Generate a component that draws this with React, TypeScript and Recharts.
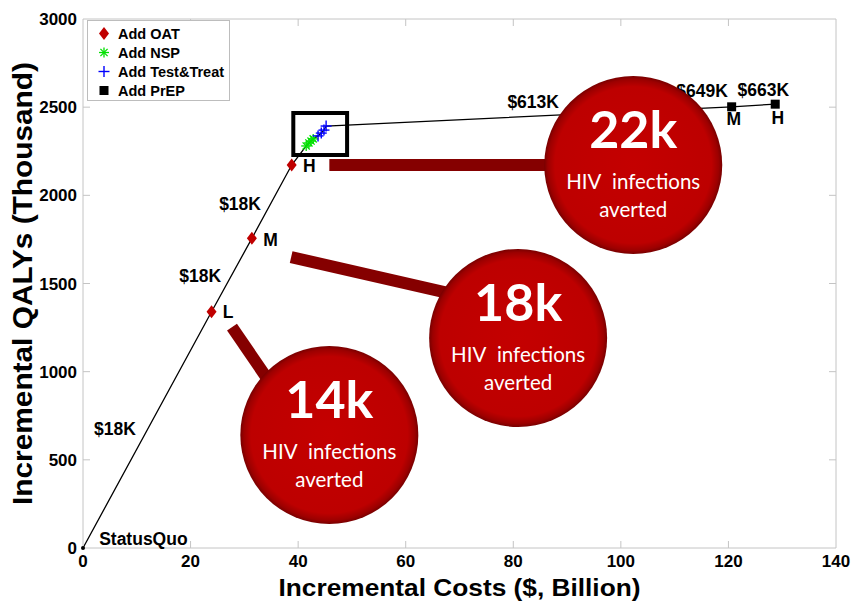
import { ComposedChart, XAxis, YAxis, Line, Scatter, ReferenceArea, ReferenceLine, Legend, Label } from 'recharts';

const X_TICKS = [0, 20, 40, 60, 80, 100, 120, 140];
const Y_TICKS = [0, 500, 1000, 1500, 2000, 2500, 3000];

// incremental costs ($ billion) vs incremental QALYs (thousand)
const statusQuo = [{ x: 0, y: 0 }];
const oat = [
  { x: 23.9, y: 1340 },
  { x: 31.4, y: 1756 },
  { x: 38.8, y: 2172 },
];
const nsp = [
  { x: 41.5, y: 2280 },
  { x: 42.0, y: 2297 },
  { x: 42.4, y: 2308 },
  { x: 42.8, y: 2320 },
];
const testTreat = [
  { x: 43.7, y: 2337 },
  { x: 44.3, y: 2353 },
  { x: 44.8, y: 2370 },
  { x: 45.2, y: 2393 },
];
const prep = [
  { x: 120.6, y: 2502 },
  { x: 128.7, y: 2517 },
];
const frontier = [...statusQuo, ...oat, ...nsp, ...testTreat, ...prep];

const labels = [
  { x: 29.2, y: 1917, text: '$18K', anchor: 'middle' },
  { x: 21.8, y: 1509, text: '$18K', anchor: 'middle' },
  { x: 5.95, y: 641, text: '$18K', anchor: 'middle' },
  { x: 3.0, y: 17, text: 'StatusQuo', anchor: 'start' },
  { x: 26.0, y: 1304, text: 'L', anchor: 'start' },
  { x: 33.5, y: 1713, text: 'M', anchor: 'start' },
  { x: 40.9, y: 2132, text: 'H', anchor: 'start' },
  { x: 83.7, y: 2495, text: '$613K', anchor: 'middle' },
  { x: 115.1, y: 2558, text: '$649K', anchor: 'middle' },
  { x: 126.5, y: 2563, text: '$663K', anchor: 'middle' },
  { x: 121.0, y: 2399, text: 'M', anchor: 'middle' },
  { x: 129.2, y: 2405, text: 'H', anchor: 'middle' },
];

const bubbles = [
  { x: 102.3, y: 2172, value: '22k' },
  { x: 80.9, y: 1191, value: '18k' },
  { x: 45.8, y: 641, value: '14k' },
];

const connectors = [
  [{ x: 45.8, y: 2172 }, { x: 90, y: 2172 }],
  [{ x: 38.7, y: 1650 }, { x: 68, y: 1445 }],
  [{ x: 27.7, y: 1253 }, { x: 34.8, y: 936 }],
];

const LEGEND_ITEMS = ['Add OAT', 'Add NSP', 'Add Test&Treat', 'Add PrEP'];

const FONT = '"Liberation Sans", Arial, Helvetica, sans-serif';
const AXIS_GRAY = '#c4c4c4';
const OAT_RED = '#c00000';
const NSP_GREEN = '#00e000';
const TT_BLUE = '#0000ff';
const TOP = 19;
const RIGHT = 836;

const diamond = (cx: number, cy: number) => (
  <polygon points={`${cx},${cy - 6.5} ${cx + 5},${cy} ${cx},${cy + 6.5} ${cx - 5},${cy}`} fill={OAT_RED} />
);
const asterisk = (cx: number, cy: number) => (
  <g stroke={NSP_GREEN} strokeWidth={1.3}>
    <line x1={cx - 5} x2={cx + 5} y1={cy} y2={cy} />
    <line x1={cx} x2={cx} y1={cy - 5} y2={cy + 5} />
    <line x1={cx - 3.6} x2={cx + 3.6} y1={cy - 3.6} y2={cy + 3.6} />
    <line x1={cx - 3.6} x2={cx + 3.6} y1={cy + 3.6} y2={cy - 3.6} />
  </g>
);
const plus = (cx: number, cy: number) => (
  <g stroke={TT_BLUE} strokeWidth={1.4}>
    <line x1={cx - 5.5} x2={cx + 5.5} y1={cy} y2={cy} />
    <line x1={cx} x2={cx} y1={cy - 5.5} y2={cy + 5.5} />
  </g>
);
const square = (cx: number, cy: number) => <rect x={cx - 4.5} y={cy - 4.5} width={9} height={9} fill="#000" />;

const XTick = (props: any) => {
  const { x, y, payload } = props;
  const base = y - 6;
  const edge = payload.value === 0 || payload.value === 140;
  return (
    <g>
      {!edge && <line x1={x} x2={x} y1={base} y2={base - 7} stroke={AXIS_GRAY} />}
      {!edge && <line x1={x} x2={x} y1={TOP} y2={TOP + 7} stroke={AXIS_GRAY} />}
      <text x={x} y={y} dy={13} textAnchor="middle" fontFamily={FONT} fontWeight={700} fontSize={17} fill="#000">
        {payload.value}
      </text>
    </g>
  );
};

const YTick = (props: any) => {
  const { x, y, payload } = props;
  const left = x + 6;
  const edge = payload.value === 0 || payload.value === 3000;
  return (
    <g>
      {!edge && <line x1={left} x2={left + 7} y1={y} y2={y} stroke={AXIS_GRAY} />}
      {!edge && <line x1={RIGHT} x2={RIGHT - 7} y1={y} y2={y} stroke={AXIS_GRAY} />}
      <text x={x} y={y} dy={6} textAnchor="end" fontFamily={FONT} fontWeight={700} fontSize={17} fill="#000">
        {payload.value}
      </text>
    </g>
  );
};

const Bubble = (props: any) => {
  const { cx, cy, payload } = props;
  const id = `bub-${payload.value}`;
  return (
    <g>
      <defs>
        <radialGradient id={id} cx="50%" cy="50%" r="50%">
          <stop offset="0%" stopColor="#c40000" />
          <stop offset="88%" stopColor="#bd0000" />
          <stop offset="96%" stopColor="#9c0000" />
          <stop offset="100%" stopColor="#780000" />
        </radialGradient>
      </defs>
      <circle cx={cx} cy={cy} r={89} fill={`url(#${id})`} />
      <text x={cx} y={cy - 17} textAnchor="middle" fill="#fff" fontFamily="Lato, 'Open Sans', sans-serif" fontWeight={700} fontSize={52}>
        {payload.value}
      </text>
      <text x={cx} y={cy + 24} textAnchor="middle" fill="#fff" fontFamily="Lato, 'Open Sans', sans-serif" fontSize={20.5} wordSpacing={6}>
        HIV infections
      </text>
      <text x={cx} y={cy + 52} textAnchor="middle" fill="#fff" fontFamily="Lato, 'Open Sans', sans-serif" fontSize={20.5}>
        averted
      </text>
    </g>
  );
};

const TextMark = (props: any) => {
  const { cx, cy, payload } = props;
  return (
    <text x={cx} y={cy} textAnchor={payload.anchor} fontFamily={FONT} fontWeight={700} fontSize={17.5} fill="#000">
      {payload.text}
    </text>
  );
};

const LegendBox = () => {
  const icons = [diamond, asterisk, plus, square];
  return (
    <div style={{ border: '1px solid #bdbdbd', background: '#fff', width: 143, height: 81, paddingTop: 3, boxSizing: 'border-box' }}>
      {LEGEND_ITEMS.map((name, i) => (
        <div key={name} style={{ display: 'flex', alignItems: 'center', height: 19 }}>
          <svg width={30} height={19}>{icons[i](16, 9.5)}</svg>
          <span style={{ fontFamily: FONT, fontWeight: 700, fontSize: 14.5, color: '#000' }}>{name}</span>
        </div>
      ))}
    </div>
  );
};

export default function App() {
  return (
    <div style={{ position: 'absolute', left: 0, top: 0, width: 852, height: 601, background: '#fff' }}>
      <ComposedChart width={852} height={601} margin={{ top: TOP, right: 16, bottom: 0, left: 0 }}>
        <XAxis
          type="number"
          dataKey="x"
          domain={[0, 140]}
          ticks={X_TICKS}
          height={53}
          tickLine={false}
          tickSize={0}
          tickMargin={6}
          tick={<XTick />}
          axisLine={{ stroke: AXIS_GRAY }}
        >
          <Label
            content={(p: any) => (
              <text x={p.viewBox.x + p.viewBox.width / 2} y={595.5} textAnchor="middle" fontFamily={FONT} fontWeight={700}
                fontSize={23.5} textLength={362} lengthAdjust="spacingAndGlyphs" fill="#000">
                Incremental Costs ($, Billion)
              </text>
            )}
          />
        </XAxis>
        <YAxis
          type="number"
          dataKey="y"
          domain={[0, 3000]}
          ticks={Y_TICKS}
          width={83}
          tickLine={false}
          tickSize={0}
          tickMargin={6}
          tick={<YTick />}
          axisLine={{ stroke: AXIS_GRAY }}
        >
          <Label
            content={(p: any) => {
              const cy = p.viewBox.y + p.viewBox.height / 2;
              return (
                <text x={32} y={cy} transform={`rotate(-90, 32, ${cy})`} textAnchor="middle" fontFamily={FONT} fontWeight={700}
                  fontSize={28} textLength={443} lengthAdjust="spacingAndGlyphs" fill="#000">
                  Incremental QALYs (Thousand)
                </text>
              );
            }}
          />
        </YAxis>
        <ReferenceLine y={3000} stroke={AXIS_GRAY} />
        <ReferenceLine x={140} stroke={AXIS_GRAY} />
        <Legend content={<LegendBox />} layout="vertical" align="center" verticalAlign="middle" wrapperStyle={{ top: 20, left: 87, width: 143 }} />
        <ReferenceArea x1={39.1} x2={49.1} y1={2229} y2={2467} fill="none" fillOpacity={0} stroke="#000" strokeWidth={4} />
        {connectors.map((seg, i) => (
          <Line key={i} data={seg} dataKey="y" stroke="#850000" strokeWidth={12} dot={false} legendType="none" isAnimationActive={false} />
        ))}
        <Line data={frontier} dataKey="y" stroke="#000" strokeWidth={1.3} dot={false} isAnimationActive={false} />
        <Scatter data={statusQuo} dataKey="y" shape={(p: any) => <circle cx={p.cx} cy={p.cy} r={2} fill="#000" />} isAnimationActive={false} />
        <Scatter data={oat} dataKey="y" shape={(p: any) => diamond(p.cx, p.cy)} isAnimationActive={false} />
        <Scatter data={nsp} dataKey="y" shape={(p: any) => asterisk(p.cx, p.cy)} isAnimationActive={false} />
        <Scatter data={testTreat} dataKey="y" shape={(p: any) => plus(p.cx, p.cy)} isAnimationActive={false} />
        <Scatter data={prep} dataKey="y" shape={(p: any) => square(p.cx, p.cy)} isAnimationActive={false} />
        <Scatter data={labels} dataKey="y" shape={<TextMark />} isAnimationActive={false} />
        <Scatter data={bubbles} dataKey="y" shape={<Bubble />} isAnimationActive={false} />
      </ComposedChart>
    </div>
  );
}
